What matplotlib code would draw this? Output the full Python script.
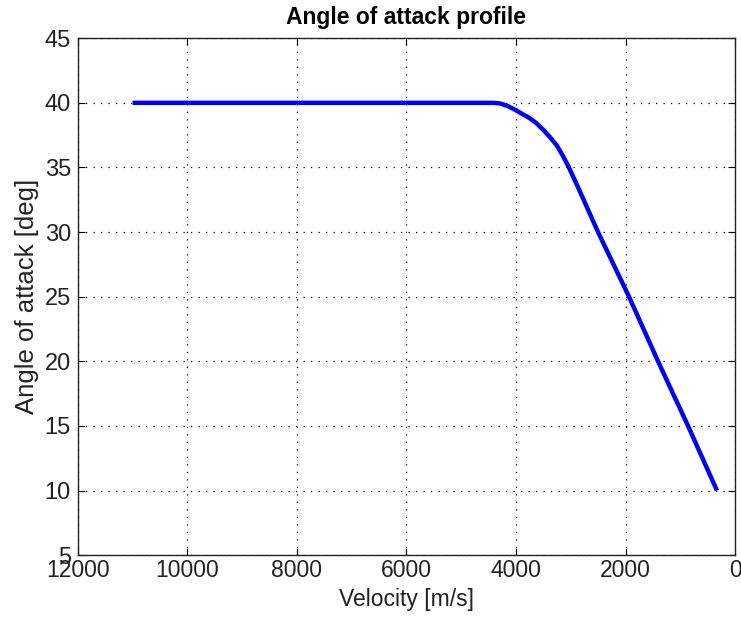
import numpy as np
import matplotlib.pyplot as plt

plt.rcParams['font.family'] = ['Liberation Sans', 'DejaVu Sans']

# data
velocity = [11000, 8000, 6000, 4400, 4290, 4150, 3990, 3870, 3745, 3620, 3500,
            3380, 3255, 3150, 3045, 2860, 2502, 1936, 1406, 858, 330]
alpha = [40.0, 40.0, 40.0, 40.0, 39.95, 39.75, 39.4, 39.1, 38.8, 38.4, 37.9,
         37.35, 36.7, 35.95, 35.1, 33.4, 30.0, 25.0, 20.0, 15.0, 10.0]

x_ticks = [12000, 10000, 8000, 6000, 4000, 2000, 0]
y_ticks = [5, 10, 15, 20, 25, 30, 35, 40, 45]

fig = plt.figure(figsize=(7.41, 6.26), dpi=100)
ax = fig.add_axes([0.105, 0.113, 0.887, 0.826])

ax.plot(velocity, alpha, color='#0000ff', linewidth=3.2, solid_capstyle='butt')

ax.set_xlim(12000, 0)
ax.set_ylim(5, 45)
ax.set_xticks(x_ticks)
ax.set_yticks(y_ticks)
ax.tick_params(direction='in', top=True, right=True, length=5)
ax.tick_params(axis='x', labelsize=16.5, pad=3, labelcolor='#222222')
ax.tick_params(axis='y', labelsize=17, pad=5, labelcolor='#222222')
ax.grid(True, color='black', linestyle=(0, (1, 5)), linewidth=0.9)
for s in ax.spines.values():
    s.set_linewidth(1.0)
    s.set_color('#222222')

ax.set_xlabel("Velocity [m/s]", fontsize=16.5, labelpad=4, color='#222222')
ax.set_ylabel("Angle of attack [deg]", fontsize=18.5, labelpad=4, color='#222222')
ax.set_title("Angle of attack profile", fontsize=16.5, fontweight='bold', pad=10)

fig.savefig("out.png", dpi=100)
